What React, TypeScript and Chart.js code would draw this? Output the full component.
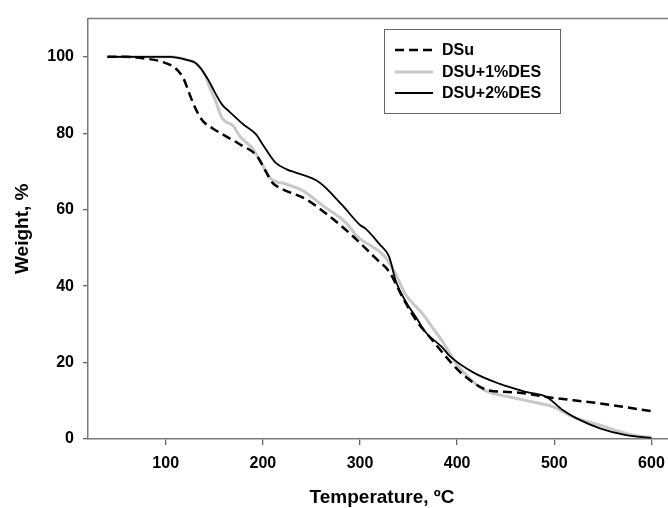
import React, { useEffect, useRef } from "react";
import { Chart, registerables } from "chart.js";

Chart.register(...registerables);

const seriesNames = ["DSu", "DSU+1%DES", "DSU+2%DES"];

const tempDSu = [40, 60, 80, 95, 110, 118, 122, 128, 137, 148, 160, 177, 194, 203, 210, 220, 244, 265, 290, 316, 330, 344, 358, 375, 392, 409, 433, 461, 492, 547, 600];
const weightDSu = [100, 100, 99.5, 98.8, 97, 94.5, 92, 88, 83.6, 81.3, 79.5, 77, 74, 70, 67, 65.4, 62.8, 59, 53.7, 47.3, 43.8, 37, 31, 25.7, 20.5, 16.2, 12.7, 12.2, 11, 9.3, 7.3];

const temp1 = [40, 80, 105, 122, 130, 136, 141, 146, 151, 158, 170, 176, 190, 200, 208, 224, 241, 261, 286, 296, 327, 337, 347, 365, 375, 385, 392, 399, 426, 454, 478, 499, 519, 547, 581, 600];
const weight1 = [100, 100, 100, 99.2, 98.5, 97, 95, 91.5, 88.7, 84, 81.8, 79.3, 75.8, 71.5, 68.2, 66.7, 65, 61.2, 56.5, 53.3, 47.3, 43, 37.8, 32.6, 29, 25.5, 22.5, 19.8, 13.1, 11, 9.7, 8.4, 5.8, 3.6, 1, 0.4];

const temp2 = [40, 80, 105, 122, 130, 136, 140, 144, 151, 158, 165, 180, 193, 200, 213, 225, 234, 258, 282, 300, 306, 320, 330, 337, 347, 358, 368, 385, 392, 416, 444, 471, 492, 509, 523, 547, 574, 600];
const weight2 = [100, 100, 100, 99.2, 98.5, 97, 95.5, 93.9, 90.5, 87.5, 85.8, 82.3, 79.7, 77, 72.3, 70.5, 69.7, 67.2, 61.1, 56, 55, 51, 47.7, 41.2, 36, 31.7, 27.8, 23.9, 21.8, 17.5, 14.4, 12.3, 11, 7.5, 5.4, 2.8, 1, 0.3];

const xTickValues = [100, 200, 300, 400, 500, 600];
const yTickValues = [0, 20, 40, 60, 80, 100];

const FONT = "'Liberation Sans', Arial, sans-serif";
const CANVAS_W = 700;

const toPoints = (xs: number[], ys: number[]) => xs.map((x, i) => ({ x, y: ys[i] }));

const framePlugin = {
  id: "frameAndLegend",
  afterDraw(chart: any) {
    const { ctx, chartArea } = chart;
    ctx.save();
    ctx.strokeStyle = "#7a7a7a";
    ctx.lineWidth = 1.5;
    ctx.beginPath();
    ctx.moveTo(chartArea.left, chartArea.top);
    ctx.lineTo(chartArea.right, chartArea.top);
    ctx.stroke();

    const bx = 384.5, by = 29.5, bw = 176, bh = 84;
    ctx.fillStyle = "#ffffff";
    ctx.fillRect(bx, by, bw, bh);
    ctx.strokeStyle = "#666666";
    ctx.lineWidth = 1;
    ctx.strokeRect(bx, by, bw, bh);
    const rows = [50, 72, 93];
    const styles = [
      { color: "#000000", width: 2.5, dash: [9, 5] },
      { color: "#c8c8c8", width: 3, dash: [] as number[] },
      { color: "#000000", width: 2, dash: [] as number[] },
    ];
    rows.forEach((y, i) => {
      const s = styles[i];
      ctx.strokeStyle = s.color;
      ctx.lineWidth = s.width;
      ctx.setLineDash(s.dash);
      ctx.beginPath();
      ctx.moveTo(395, y);
      ctx.lineTo(433, y);
      ctx.stroke();
      ctx.setLineDash([]);
      ctx.fillStyle = "#000000";
      ctx.font = `bold 16px ${FONT}`;
      ctx.textBaseline = "middle";
      ctx.textAlign = "left";
      ctx.fillText(seriesNames[i], 442, y + 1);
    });
    ctx.restore();
  },
};

export default function App() {
  const canvasRef = useRef<HTMLCanvasElement | null>(null);

  useEffect(() => {
    if (!canvasRef.current) return;
    const chart = new Chart(canvasRef.current, {
      type: "scatter",
      data: {
        datasets: [
          {
            label: seriesNames[0],
            data: toPoints(tempDSu, weightDSu),
            showLine: true,
            borderColor: "#000000",
            borderWidth: 2.5,
            borderDash: [9, 5],
            pointRadius: 0,
            cubicInterpolationMode: "monotone",
            order: 0,
          },
          {
            label: seriesNames[1],
            data: toPoints(temp1, weight1),
            showLine: true,
            borderColor: "#c8c8c8",
            borderWidth: 3,
            pointRadius: 0,
            cubicInterpolationMode: "monotone",
            order: 2,
          },
          {
            label: seriesNames[2],
            data: toPoints(temp2, weight2),
            showLine: true,
            borderColor: "#000000",
            borderWidth: 1.8,
            pointRadius: 0,
            cubicInterpolationMode: "monotone",
            order: 1,
          },
        ],
      },
      options: {
        animation: false,
        responsive: false,
        maintainAspectRatio: false,
        layout: { padding: { top: 14, left: 0, right: 0, bottom: 0 } },
        plugins: {
          legend: { display: false },
          tooltip: { enabled: false },
        },
        scales: {
          x: {
            type: "linear",
            min: 20,
            max: 650,
            afterFit: (scale: any) => {
              scale.height = 69;
            },
            afterBuildTicks: (scale: any) => {
              scale.ticks = xTickValues.map((v) => ({ value: v }));
            },
            ticks: {
              stepSize: 100,
              includeBounds: false,
              color: "#000000",
              font: { family: FONT, size: 16, weight: "bold" },
              padding: 9,
              maxRotation: 0,
            },
            grid: {
              display: true,
              drawOnChartArea: false,
              drawTicks: true,
              tickLength: 6,
              color: "#666666",
              lineWidth: 1.3,
            },
            border: { display: true, color: "#7a7a7a", width: 1.5 },
            title: { display: false },
          },
          y: {
            type: "linear",
            min: 0,
            max: 110,
            afterFit: (scale: any) => {
              scale.width = 88;
            },
            afterBuildTicks: (scale: any) => {
              scale.ticks = yTickValues.map((v) => ({ value: v }));
            },
            ticks: {
              stepSize: 20,
              includeBounds: false,
              color: "#000000",
              font: { family: FONT, size: 16, weight: "bold" },
              padding: 9,
            },
            grid: {
              display: true,
              drawOnChartArea: false,
              drawTicks: true,
              tickLength: 5,
              color: "#666666",
              lineWidth: 1.3,
            },
            border: { display: true, color: "#7a7a7a", width: 1.5 },
            title: {
              display: true,
              text: "Weight, %",
              color: "#000000",
              font: { family: FONT, size: 19, weight: "bold", lineHeight: 1 },
              padding: { top: 13.5, bottom: 0 },
            },
          },
        },
      },
      plugins: [
        framePlugin,
        {
          id: "xTitle",
          afterDraw(chart: any) {
            const ctx = chart.ctx;
            ctx.save();
            ctx.fillStyle = "#000000";
            ctx.font = `bold 19px ${FONT}`;
            ctx.textAlign = "center";
            ctx.textBaseline = "middle";
            ctx.fillText("Temperature, ºC", 382, 498);
            ctx.restore();
          },
        },
      ],
    } as any);
    return () => chart.destroy();
  }, []);

  return (
    <div style={{ position: "fixed", left: 0, top: 0, width: 668, height: 508, overflow: "hidden", background: "#ffffff" }}>
      <canvas ref={canvasRef} width={CANVAS_W} height={508} style={{ width: CANVAS_W, height: 508, display: "block" }} />
    </div>
  );
}
